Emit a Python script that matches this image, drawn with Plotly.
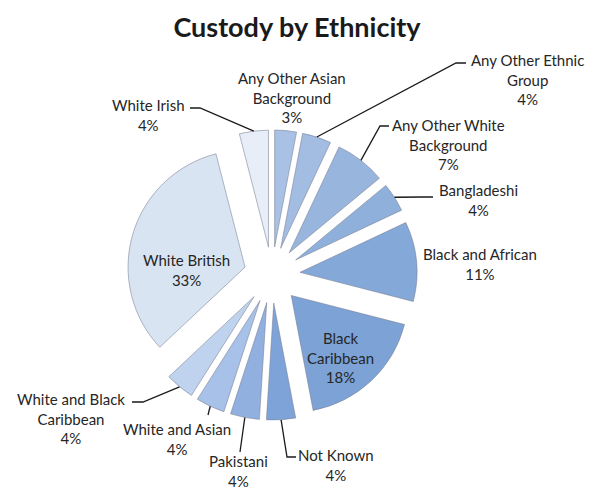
import math
import plotly.graph_objects as go

# ---- data -------------------------------------------------------------
categories = [
    "Any Other Asian Background", "Any Other Ethnic Group",
    "Any Other White Background", "Bangladeshi", "Black and African",
    "Black Caribbean", "Not Known", "Pakistani", "White and Asian",
    "White and Black Caribbean", "White British", "White Irish",
]
shares = [3, 4, 7, 4, 11, 18, 4, 4, 4, 4, 33, 4]
label_lines = [
    "Any Other Asian<br>Background", "Any Other Ethnic<br>Group",
    "Any Other White<br>Background", "Bangladeshi", "Black and African",
    "Black<br>Caribbean", "Not Known", "Pakistani", "White and Asian",
    "White and Black<br>Caribbean", "White British", "White Irish",
]

# ---- styling ----------------------------------------------------------
colors = [
    "#a9c1e4", "#a2bce2", "#98b5de", "#90b0dc", "#84a8d8", "#7ca2d6",
    "#7ea3d8", "#91b0e0", "#a7c1e8", "#bfd2ee", "#d9e4f2", "#e7eef7",
]
W, H = 601, 488
CX, CY = 272, 275          # pie centre (px)
R = 117                    # pie radius (px)
PULL = 0.24                # explosion as a fraction of the radius
FONT = "Lato"
TEXT_COLOR = "#262626"

# label placement: text centre (px) and elbow points of the leader line
label_style = {
    "Any Other Asian Background": dict(pos=(292, 98), elbow=None),
    "Any Other Ethnic Group": dict(pos=(527, 80), elbow=[(456, 63), (466, 63)]),
    "Any Other White Background": dict(pos=(448, 144), elbow=[(380, 126), (389, 126)]),
    "Bangladeshi": dict(pos=(478, 200), elbow=[(423, 197), (433, 197)]),
    "Black and African": dict(pos=(480, 264), elbow=None),
    "Black Caribbean": dict(pos=(340, 357), elbow=None),
    "Not Known": dict(pos=(336, 465), elbow=[(287, 457), (296, 457)]),
    "Pakistani": dict(pos=(238, 471), elbow=[(240, 452)]),
    "White and Asian": dict(pos=(177, 439), elbow=[(208, 415)]),
    "White and Black Caribbean": dict(pos=(71, 418), elbow=[(143, 402), (132, 402)]),
    "White British": dict(pos=(186, 270), elbow=None),
    "White Irish": dict(pos=(148, 115), elbow=[(200, 108), (190, 108)]),
}


def paper(x, y):
    return x / W, 1 - y / H


box = 2 * R * (1 + PULL)
dom_x = [(CX - box / 2) / W, (CX + box / 2) / W]
dom_y = [1 - (CY + box / 2) / H, 1 - (CY - box / 2) / H]

fig = go.Figure(go.Pie(
    labels=categories,
    values=shares,
    sort=False,
    direction="clockwise",
    rotation=0,
    pull=[PULL] * len(shares),
    textinfo="none",
    hoverinfo="label+percent",
    marker=dict(colors=colors, line=dict(color="rgba(120,125,145,0.55)", width=1)),
    domain=dict(x=dom_x, y=dom_y),
    showlegend=False,
))

# labels and leader lines, anchored to the outer edge of each exploded slice
total = sum(shares)
cum = 0
annotations, shapes = [], []
for cat, val, txt in zip(categories, shares, label_lines):
    mid = (cum + val / 2) / total * 2 * math.pi
    cum += val
    st = label_style[cat]
    pct = round(val / total * 100)
    tx, ty = paper(*st["pos"])
    annotations.append(dict(
        x=tx, y=ty, xref="paper", yref="paper", showarrow=False,
        text=f"{txt}<br>{pct}%", align="center",
        font=dict(family=FONT, size=15, color=TEXT_COLOR),
        xanchor="center", yanchor="middle",
    ))
    if st["elbow"]:
        d = R * (1 + PULL)
        ax = CX + d * math.sin(mid)
        ay = CY - d * math.cos(mid)
        pts = [(ax, ay)] + st["elbow"]
        path = "M " + " L ".join(f"{paper(px, py)[0]:.5f},{paper(px, py)[1]:.5f}" for px, py in pts)
        shapes.append(dict(type="path", path=path, xref="paper", yref="paper",
                           line=dict(color="#1a1a1a", width=1.3)))

fig.update_layout(
    width=W, height=H,
    margin=dict(l=0, r=0, t=0, b=0),
    paper_bgcolor="white",
    plot_bgcolor="white",
    title=dict(
        text="Custody by Ethnicity",
        x=297 / W, xanchor="center",
        y=1 - 28 / H, yanchor="middle", yref="container",
        font=dict(family=FONT, size=27, color="#1a1a1a", weight=700),
    ),
    annotations=annotations,
    shapes=shapes,
)

fig.write_html("out.html")
